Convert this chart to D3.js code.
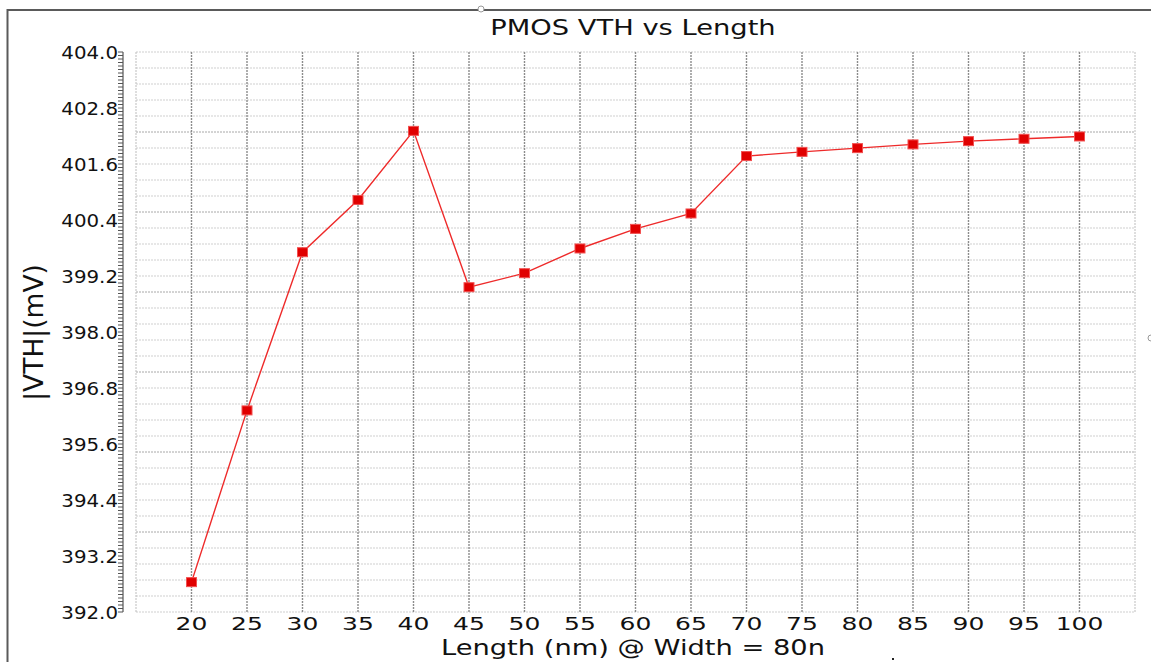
<!DOCTYPE html>
<html>
<head>
<meta charset="utf-8">
<script src="https://cdn.jsdelivr.net/npm/d3@7/dist/d3.min.js"></script>
<style>
  html, body { margin: 0; padding: 0; background: #fff; }
  svg { display: block; font-family: "DejaVu Sans", Verdana, sans-serif; }
</style>
</head>
<body>
<svg id="chart" width="1151" height="662"></svg>
<script>
// Channel length sweep (nm) at W = 80n
const lengths = [20, 25, 30, 35, 40, 45, 50, 55, 60, 65, 70, 75, 80, 85, 90, 95, 100];
// |VTH| in mV
const vth = [392.64, 396.32, 399.71, 400.83, 402.31, 398.96, 399.26, 399.79, 400.21,
             400.54, 401.77, 401.86, 401.94, 402.02, 402.09, 402.14, 402.19];
// Y tick labels
const yTicks = [392.0, 393.2, 394.4, 395.6, 396.8, 398.0, 399.2, 400.4, 401.6, 402.8, 404.0];
const xTicks = lengths;

const xDomain = [15, 105];
const yDomain = [392, 404];

const svg = d3.select("#chart");
const plot = { left: 136, right: 1135, top: 52, bottom: 612 };

const x = d3.scaleLinear().domain(xDomain).range([plot.left, plot.right]);
const y = d3.scaleLinear().domain(yDomain).range([plot.bottom, plot.top]);

// Stretch a text element horizontally to a given factor of its natural width
function stretch(sel, factor) {
  sel.each(function () {
    const w = this.getComputedTextLength();
    d3.select(this).attr("textLength", w * factor).attr("lengthAdjust", "spacingAndGlyphs");
  });
}

// Window frame
svg.append("path")
  .attr("d", "M7.5,662 L7.5,10 L1151,10")
  .attr("fill", "none").attr("stroke", "#5a5a5a").attr("stroke-width", 2);
svg.append("circle").attr("cx", 481).attr("cy", 9).attr("r", 3)
  .attr("fill", "#fff").attr("stroke", "#999").attr("stroke-width", 1);
svg.append("circle").attr("cx", 1151).attr("cy", 338).attr("r", 3)
  .attr("fill", "#fff").attr("stroke", "#999").attr("stroke-width", 1);
svg.append("rect").attr("x", 892).attr("y", 658).attr("width", 2).attr("height", 2).attr("fill", "#222");

// Horizontal grid: 35 equal divisions, heavier every 5th
const hDiv = 35;
const hGrid = d3.range(hDiv + 1).map(i => ({ v: yDomain[0] + i * (yDomain[1] - yDomain[0]) / hDiv, i }));
svg.append("g").selectAll("line").data(hGrid).join("line")
  .attr("x1", plot.left).attr("x2", plot.right)
  .attr("y1", d => y(d.v)).attr("y2", d => y(d.v))
  .attr("stroke", d => (d.i % 5 === 0 && d.i !== 0 && d.i !== hDiv) ? "#a8a8a8" : "#cfcfcf")
  .attr("stroke-width", 1)
  .attr("stroke-dasharray", "2,1");

// Vertical grid at each 5 nm
const vGrid = d3.range(xDomain[0], xDomain[1] + 1, 5);
svg.append("g").selectAll("line").data(vGrid).join("line")
  .attr("x1", d => x(d)).attr("x2", d => x(d))
  .attr("y1", plot.top).attr("y2", plot.bottom)
  .attr("stroke", d => (d === xDomain[0] || d === xDomain[1]) ? "#bdbdbd" : "#8c8c8c")
  .attr("stroke-width", d => (d === xDomain[0] || d === xDomain[1]) ? 1 : 1.4)
  .attr("stroke-dasharray", "2,1");

// Y axis with dense ruler ticks
const axisX = 123;
const yAxisG = svg.append("g");
yAxisG.append("line").attr("x1", axisX).attr("x2", axisX)
  .attr("y1", y(yDomain[1])).attr("y2", y(yDomain[0]))
  .attr("stroke", "#555").attr("stroke-width", 1.2);
const minorTicks = d3.range(0, 160 + 1).map(i => yDomain[0] + i * 0.075);
yAxisG.selectAll("line.minor").data(minorTicks).join("line")
  .attr("class", "minor")
  .attr("x1", axisX - 5).attr("x2", axisX)
  .attr("y1", d => y(d)).attr("y2", d => y(d))
  .attr("stroke", "#555").attr("stroke-width", 1);
yAxisG.selectAll("text").data(yTicks).join("text")
  .attr("x", 118).attr("y", d => y(d) + 6.5)
  .attr("text-anchor", "end")
  .attr("font-size", 18).attr("fill", "#111")
  .text(d => d.toFixed(1))
  .call(stretch, 1.1);

// X tick labels
svg.append("g").selectAll("text").data(xTicks).join("text")
  .attr("x", d => x(d)).attr("y", 630)
  .attr("text-anchor", "middle")
  .attr("font-size", 18.5).attr("fill", "#111")
  .text(d => d)
  .call(stretch, 1.35);

// Data line
const line = d3.line().x((d, i) => x(lengths[i])).y(d => y(d));
svg.append("path").datum(vth)
  .attr("d", line)
  .attr("fill", "none").attr("stroke", "#ee2a2a").attr("stroke-width", 1.4);

// Square markers
svg.append("g").selectAll("rect").data(vth).join("rect")
  .attr("x", (d, i) => x(lengths[i]) - 5).attr("y", d => y(d) - 4.5)
  .attr("width", 10).attr("height", 9)
  .attr("fill", "#e00000").attr("stroke", "#f25050").attr("stroke-width", 1);

// Title and axis labels
svg.append("text").attr("x", 633).attr("y", 35).attr("text-anchor", "middle")
  .attr("font-size", 21).attr("fill", "#111").text("PMOS VTH vs Length")
  .call(stretch, 1.3);
svg.append("text").attr("x", 633).attr("y", 655).attr("text-anchor", "middle")
  .attr("font-size", 22).attr("fill", "#111").text("Length (nm) @ Width = 80n")
  .call(stretch, 1.24);
svg.append("text")
  .attr("transform", "translate(43,332.5) rotate(-90)")
  .attr("text-anchor", "middle")
  .attr("font-size", 26.5).attr("fill", "#111").text("|VTH|(mV)");
</script>
</body>
</html>
